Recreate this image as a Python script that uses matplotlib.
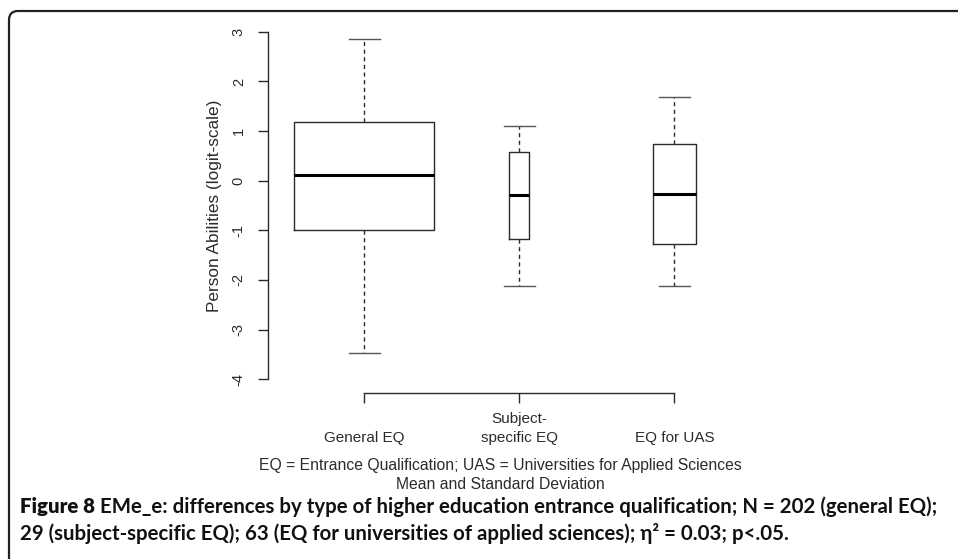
import matplotlib
matplotlib.use('Agg')
import matplotlib.pyplot as plt
from matplotlib.path import Path
from matplotlib.patches import PathPatch

# values (logit scale)
groups = ['General EQ', 'Subject-\nspecific EQ', 'EQ for UAS']
n_per_group = [202, 29, 63]
centre = [0.115, -0.295, -0.27]
box_top = [1.18, 0.58, 0.73]
box_bottom = [-0.995, -1.18, -1.27]
whisker_top = [2.86, 1.10, 1.68]
whisker_bottom = [-3.47, -2.12, -2.12]
y_ticks = [-4, -3, -2, -1, 0, 1, 2, 3]

ink = '#2b2b2b'
plt.rcParams['font.family'] = ['Liberation Sans', 'DejaVu Sans']

W, H = 958, 559
fig = plt.figure(figsize=(W / 100, H / 100), dpi=100)
ax = fig.add_axes([268 / W, 1 - 393 / H, 502.6 / W, 375 / H])

stats = []
for i in range(len(groups)):
    stats.append({'med': centre[i], 'q1': box_bottom[i], 'q3': box_top[i],
                  'whislo': whisker_bottom[i], 'whishi': whisker_top[i],
                  'fliers': []})
# box widths proportional to group size, like varwidth in R
widths = [0.9 * n / max(n_per_group) for n in n_per_group]
positions = list(range(1, len(groups) + 1))

ax.bxp(stats, positions=positions, widths=widths, capwidths=0.2,
       showfliers=False,
       boxprops=dict(color=ink, linewidth=1.0),
       medianprops=dict(color='black', linewidth=2.2),
       whiskerprops=dict(color=ink, linewidth=1.0, linestyle=(0, (3, 2.5))),
       capprops=dict(color='#555555', linewidth=1.0))

ax.set_xlim(0.38, 3.62)
ax.set_ylim(-4.28, 3.28)

for s in ['top', 'right']:
    ax.spines[s].set_visible(False)
ax.spines['left'].set_bounds(-4, 3)
ax.spines['bottom'].set_bounds(1, 3)
for s in ['left', 'bottom']:
    ax.spines[s].set_color(ink)
    ax.spines[s].set_linewidth(1.0)

ax.set_yticks(y_ticks, labels=[str(t) for t in y_ticks])
ax.set_xticks(positions, labels=['\n' + g if '\n' not in g else g for g in groups])
ax.tick_params(axis='both', direction='out', length=7, width=1.0, color=ink,
               labelcolor=ink)
ax.tick_params(axis='y', labelrotation=90, pad=9, labelsize=10.5)
ax.tick_params(axis='x', pad=7, labelsize=11)
for lab in ax.get_yticklabels():
    lab.set_va('center')
for lab in ax.get_xticklabels():
    lab.set_linespacing(1.4)

ax.set_ylabel('Person Abilities (logit-scale)', fontsize=12.4, color=ink)
ax.yaxis.set_label_coords(-0.092, 0.5)

fig.text(500 / W, 1 - 458 / H,
         'EQ = Entrance Qualification; UAS = Universities for Applied Sciences\n'
         'Mean and Standard Deviation',
         ha='center', va='top', fontsize=11.3, color=ink, linespacing=1.3)

# frame: left and top edge with a rounded corner, open to the right and bottom
x0, y0, r = 9 / W, 1 - 11 / H, 9
rx, ry = r / W, r / H
verts = [(x0, -0.05), (x0, y0 - ry), (x0, y0), (x0 + rx, y0), (1.05, y0)]
codes = [Path.MOVETO, Path.LINETO, Path.CURVE3, Path.CURVE3, Path.LINETO]
frame = PathPatch(Path(verts, codes), transform=fig.transFigure, fill=False,
                  edgecolor='#222222', linewidth=1.6)
fig.patches.append(frame)

# caption
cap_font = ['Lato', 'DejaVu Sans']
cap_size = 14.7
y1 = 1 - 507 / H
y2 = 1 - 533 / H
bold = fig.text(20 / W, y1, 'Figure 8', ha='left', va='center',
                fontsize=cap_size, fontweight='heavy', family=cap_font, color='#111111')
fig.canvas.draw()
bb = bold.get_window_extent(fig.canvas.get_renderer())
fig.text(bb.x1 / W, y1, ' EMe_e: differences by type of higher education entrance '
         'qualification; N = 202 (general EQ);', ha='left', va='center',
         fontsize=cap_size, fontweight='bold', family=cap_font, color='#111111')
fig.text(20 / W, y2, '29 (subject-specific EQ); 63 (EQ for universities of applied '
         'sciences); η² = 0.03; p<.05.', ha='left', va='center',
         fontsize=cap_size, fontweight='bold', family=cap_font, color='#111111')

fig.savefig('out.png', dpi=100)
